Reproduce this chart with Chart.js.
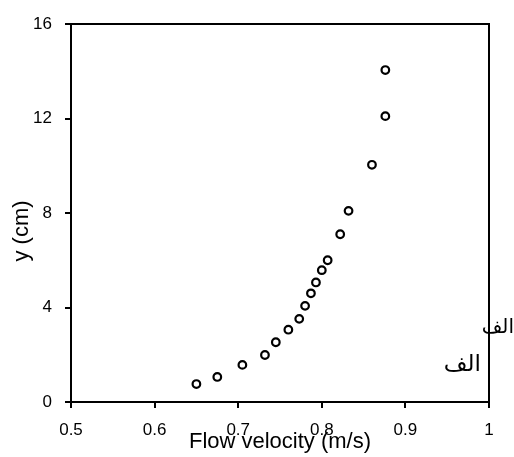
<!DOCTYPE html>
<html>
<head>
<meta charset="utf-8">
<script src="https://cdn.jsdelivr.net/npm/chart.js@4/dist/chart.umd.min.js"></script>
<style>
  html, body { margin: 0; padding: 0; background: #fff; }
  canvas { display: block; }
</style>
</head>
<body>
<canvas id="flowChart" width="514" height="457"></canvas>
<script>
// data
const velocity = [0.650, 0.675, 0.705, 0.732, 0.745, 0.760, 0.773, 0.780, 0.787, 0.793, 0.800, 0.807, 0.822, 0.832, 0.860, 0.876, 0.876];
const depth = [0.76, 1.06, 1.57, 1.99, 2.53, 3.06, 3.52, 4.07, 4.60, 5.06, 5.58, 6.00, 7.10, 8.09, 10.04, 12.10, 14.05];
const xTickLabels = ['0.5', '0.6', '0.7', '0.8', '0.9', '1'];
const yTickLabels = ['0', '4', '8', '12', '16'];
const xTitle = 'Flow velocity (m/s)';
const yTitle = 'y (cm)';
const notes = ['الف', 'الف'];

const ink = '#000';
const tickFont = { family: 'Liberation Sans, Arial, sans-serif', size: 17 };

// frame + rotated y title + the arabic notes
const extras = {
  id: 'extras',
  afterDraw(chart) {
    const { ctx, chartArea: a } = chart;
    ctx.save();
    ctx.strokeStyle = ink;
    ctx.lineWidth = 2;
    ctx.beginPath();
    ctx.moveTo(a.left, a.top);
    ctx.lineTo(a.right, a.top);
    ctx.lineTo(a.right, a.bottom);
    ctx.stroke();

    ctx.fillStyle = ink;
    ctx.font = '22px Liberation Sans, Arial, sans-serif';
    ctx.textAlign = 'center';
    ctx.textBaseline = 'middle';
    ctx.translate(22, 231);
    ctx.rotate(-Math.PI / 2);
    ctx.fillText(yTitle, 0, 0);
    ctx.restore();

    ctx.save();
    ctx.fillStyle = ink;
    ctx.textAlign = 'right';
    ctx.textBaseline = 'middle';
    ctx.font = '20px DejaVu Sans, sans-serif';
    ctx.fillText(notes[0], 514, 328);
    ctx.font = '23px DejaVu Sans, sans-serif';
    ctx.fillText(notes[1], 481, 365);
    ctx.restore();
  }
};

new Chart(document.getElementById('flowChart'), {
  type: 'scatter',
  data: {
    datasets: [{
      data: velocity.map((v, i) => ({ x: v, y: depth[i] })),
      pointStyle: 'circle',
      pointRadius: 3.8,
      pointBorderWidth: 2.2,
      pointBorderColor: ink,
      pointBackgroundColor: '#fff'
    }]
  },
  options: {
    responsive: false,
    animation: false,
    events: [],
    layout: { padding: { top: 24, right: 25, left: 0, bottom: 0 } },
    plugins: { legend: { display: false }, tooltip: { enabled: false } },
    scales: {
      x: {
        type: 'linear',
        min: 0.5,
        max: 1,
        afterFit: (s) => { s.height = 55; },
        border: { display: true, color: ink, width: 2 },
        grid: { drawOnChartArea: false, drawTicks: true, tickLength: 6, color: ink, lineWidth: 2 },
        ticks: {
          stepSize: 0.1,
          color: ink,
          font: tickFont,
          padding: 12,
          maxRotation: 0,
          callback: (v, i) => xTickLabels[i]
        },
        title: {
          display: true,
          text: xTitle,
          color: ink,
          font: { family: 'Liberation Sans, Arial, sans-serif', size: 22 },
          padding: { top: 0, bottom: 2 }
        }
      },
      y: {
        min: 0,
        max: 16,
        afterFit: (s) => { s.width = 71; },
        border: { display: true, color: ink, width: 2 },
        grid: { drawOnChartArea: false, drawTicks: true, tickLength: 6, color: ink, lineWidth: 2 },
        ticks: {
          stepSize: 4,
          color: ink,
          font: tickFont,
          padding: 13,
          callback: (v, i) => yTickLabels[i]
        }
      }
    }
  },
  plugins: [extras]
});
</script>
</body>
</html>
